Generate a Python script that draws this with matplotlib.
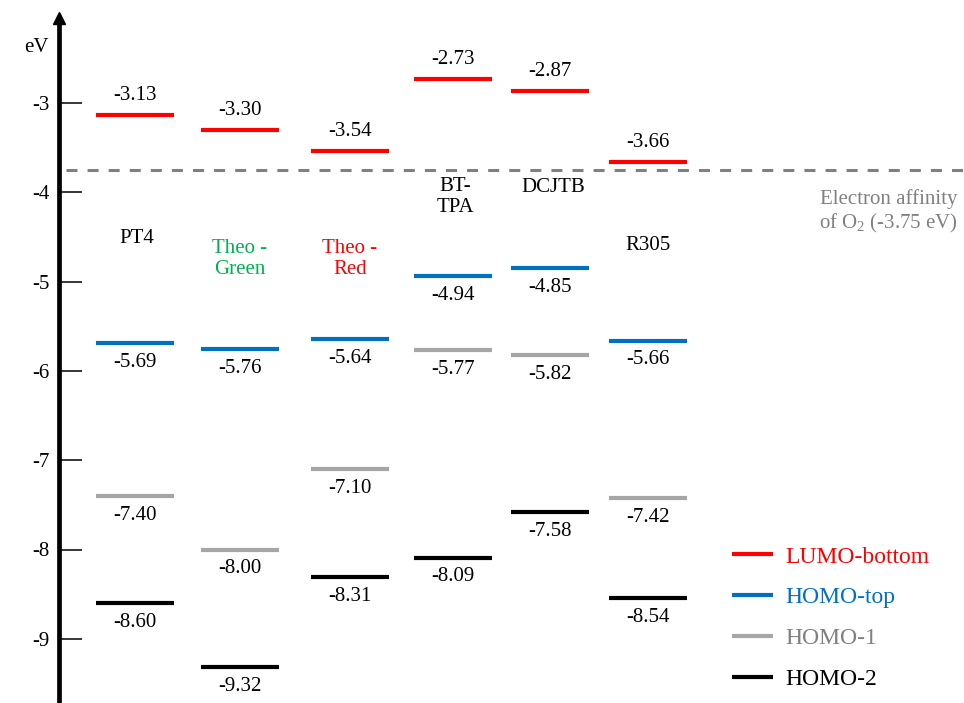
import matplotlib
matplotlib.use("Agg")
import matplotlib.pyplot as plt

plt.rcParams['font.family'] = ['Liberation Serif', 'DejaVu Serif']
plt.rcParams['mathtext.fontset'] = 'custom'
plt.rcParams['mathtext.rm'] = 'Liberation Serif'
plt.rcParams['mathtext.it'] = 'Liberation Serif:italic'

# frontier orbital energies (eV)
names = ['PT4', 'Theo -\nGreen', 'Theo -\nRed', 'BT-\nTPA', 'DCJTB', 'R305']
lumo = [-3.13, -3.30, -3.54, -2.73, -2.87, -3.66]
homo = [-5.69, -5.76, -5.64, -4.94, -4.85, -5.66]
homo1 = [-7.40, -8.00, -7.10, -5.77, -5.82, -7.42]
homo2 = [-8.60, -9.32, -8.31, -8.09, -7.58, -8.54]
o2_affinity = -3.75
yticks = [-3, -4, -5, -6, -7, -8, -9]

# layout (pixel units along x)
col_x = [135, 240, 350, 453, 550, 648]
half_w = 39
name_pos = [(137, -4.52), (240, -4.75), (350, -4.75), (455, -4.05), (553, -3.95), (648, -4.60)]
name_col = ['black', '#00B050', '#FF0000', 'black', 'black', 'black']

W, H = 964, 703
px_per_ev = 89.3


def yv(p):
    # pixel row -> energy
    return -3 - (p - 103) / px_per_ev


fig = plt.figure(figsize=(W / 100, H / 100), dpi=100)
ax = fig.add_axes([59 / W, 0, 1 - 59 / W, 1])
ax.set_xlim(59, W)
ax.set_ylim(yv(H), yv(0))

levels = [
    (lumo, '#FF0000', 'LUMO-bottom', 1),
    (homo, '#0070C0', 'HOMO-top', -1),
    (homo1, '#A6A6A6', 'HOMO-1', -1),
    (homo2, '#000000', 'HOMO-2', -1),
]
handles = []
for vals, color, lab, side in levels:
    xs = col_x
    h = ax.hlines(vals, [x - half_w for x in xs], [x + half_w for x in xs],
                  colors=color, linewidth=3, label=lab)
    handles.append(h)
    for x, v in zip(xs, vals):
        ax.annotate(f'{v:.2f}', (x, v), xytext=(0, side * 14), textcoords='offset points',
                    ha='center', va='center', fontsize=15)

# O2 electron affinity reference
ax.axhline(o2_affinity, xmin=(66 - 59) / (W - 59), xmax=1, color='#808080',
           linewidth=2.2, dashes=(3.6, 3.3))
ax.text(958, yv(212), 'Electron affinity\nof O$_2$ (-3.75 eV)', ha='right', va='center',
        multialignment='right', fontsize=15, color='#808080', linespacing=1.15)

for n, (x, y), c in zip(names, name_pos, name_col):
    ax.text(x, y, n, ha='center', va='center', fontsize=15, color=c, linespacing=1.15)

# axis styling: single left spine with arrow head
for s in ['top', 'right', 'bottom']:
    ax.spines[s].set_visible(False)
ax.spines['left'].set_linewidth(3.4)
ax.spines['left'].set_bounds(yv(H), yv(22))
ax.plot([59], [yv(18)], marker='^', markersize=9, color='black', clip_on=False)
ax.set_xticks([])
ax.set_yticks(yticks)
ax.set_yticklabels([str(t) for t in yticks])
ax.tick_params(axis='y', direction='in', length=16.5, width=1.1, pad=7, labelsize=15)
ax.text(-0.012, yv(47), 'eV', transform=ax.get_yaxis_transform(), ha='right', va='center',
        fontsize=15)

leg = ax.legend(handles=handles, loc='upper left', frameon=False,
                bbox_to_anchor=(732 / W, 1 - 546 / H), bbox_transform=fig.transFigure,
                fontsize=17, handlelength=1.75, handletextpad=0.5, labelspacing=0.82,
                borderpad=0, borderaxespad=0)
for t, (_, color, _, _) in zip(leg.get_texts(), levels):
    t.set_color('#808080' if color == '#A6A6A6' else color)

fig.savefig('out.png', dpi=100)
